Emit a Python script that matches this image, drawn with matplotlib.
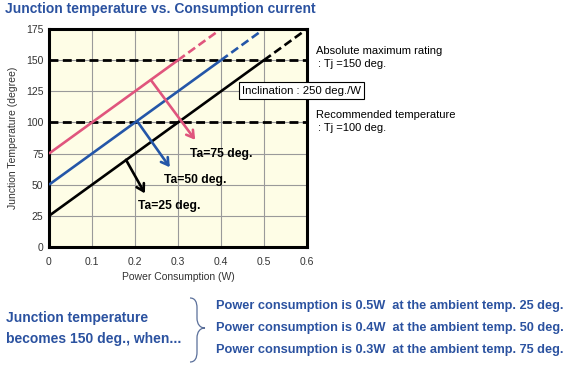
import matplotlib
matplotlib.use("Agg")
import matplotlib.pyplot as plt
from matplotlib.path import Path
from matplotlib.patches import PathPatch

plt.rcParams['font.family'] = ['Liberation Sans', 'DejaVu Sans']

# data
ta25_x = [0, 0.5, 0.6]
ta25_y = [25, 150, 175]
ta50_x = [0, 0.4, 0.49]
ta50_y = [50, 150, 172.5]
ta75_x = [0, 0.3, 0.39]
ta75_y = [75, 150, 172.5]
limit_lines = [150, 100]

# arrows: start on the line -> end near the label
arrow_starts = [(0.179, 70), (0.205, 101), (0.237, 134)]
arrow_ends = [(0.223, 43), (0.281, 64), (0.340, 86)]
ta_labels = ['Ta=25 deg.', 'Ta=50 deg.', 'Ta=75 deg.']
label_pos = [(0.207, 33), (0.267, 54), (0.328, 75)]

x_ticks = [0, 0.1, 0.2, 0.3, 0.4, 0.5, 0.6]
x_ticklabels = ['0', '0.1', '0.2', '0.3', '0.4', '0.5', '0.6']
y_ticks = [0, 25, 50, 75, 100, 125, 150, 175]

summary = ['Power consumption is 0.5W  at the ambient temp. 25 deg.',
           'Power consumption is 0.4W  at the ambient temp. 50 deg.',
           'Power consumption is 0.3W  at the ambient temp. 75 deg.']

c_black = 'black'
c_blue = '#2456a8'
c_pink = '#e0557d'
c_text_blue = '#2b52a0'

W, H = 570, 365


def fx(px):
    return px / W


def fy(py):
    return 1 - py / H


fig = plt.figure(figsize=(W / 100, H / 100), dpi=100)
ax = fig.add_axes([fx(49), fy(247), 258 / W, 218 / H])
ax.set_facecolor('#fefde6')

ax.set_xlim(0, 0.6)
ax.set_ylim(0, 175)
ax.set_xticks(x_ticks)
ax.set_xticklabels(x_ticklabels)
ax.set_yticks(y_ticks)
ax.tick_params(length=0, labelsize=7.5, labelcolor='#333333')
ax.tick_params(axis='x', pad=7)
ax.tick_params(axis='y', pad=4)
ax.grid(True, color='#9a9a9a', lw=0.8)
ax.set_axisbelow(True)
for s in ax.spines.values():
    s.set_linewidth(2.2)

dash = (0, (3.2, 1.6))
for y in limit_lines:
    ax.axhline(y, color='black', lw=2.0, linestyle=dash, zorder=3)

for xs, ys, col in [(ta25_x, ta25_y, c_black), (ta50_x, ta50_y, c_blue), (ta75_x, ta75_y, c_pink)]:
    ax.plot(xs[:2], ys[:2], color=col, lw=1.9, zorder=4, solid_capstyle='butt')
    ax.plot(xs[1:], ys[1:], color=col, lw=1.9, linestyle=dash, zorder=4)

for st, en, col in zip(arrow_starts, arrow_ends, [c_black, c_blue, c_pink]):
    ax.annotate('', xy=en, xytext=st,
                arrowprops=dict(arrowstyle='->,head_length=0.5,head_width=0.3',
                                color=col, lw=1.9, shrinkA=0, shrinkB=0), zorder=5)

for lab, pos in zip(ta_labels, label_pos):
    ax.text(pos[0], pos[1], lab, fontsize=8.7, fontweight='bold', ha='left', va='center', zorder=6)

ax.set_xlabel('Power Consumption (W)', fontsize=7.5, color='#333333', labelpad=4)
ax.set_ylabel('Junction Temperature (degree)', fontsize=7.5, color='#333333', labelpad=6)

# title
fig.text(fx(5), fy(9), 'Junction temperature vs. Consumption current', fontsize=10,
         fontweight='bold', color=c_text_blue, ha='left', va='center')

# right-side notes
fig.text(fx(316), fy(51), 'Absolute maximum rating', fontsize=8, ha='left', va='center')
fig.text(fx(318), fy(64), ': Tj =150 deg.', fontsize=8, ha='left', va='center')
fig.text(fx(316), fy(115), 'Recommended temperature', fontsize=8, ha='left', va='center')
fig.text(fx(318), fy(128), ': Tj =100 deg.', fontsize=8, ha='left', va='center')

fig.text(fx(242), fy(90.5), 'Inclination : 250 deg./W', fontsize=8.2, ha='left', va='center',
         bbox=dict(boxstyle='square,pad=0.3', fc='white', ec='black', lw=0.8), zorder=10)

# bottom summary
fig.text(fx(6), fy(318), 'Junction temperature', fontsize=10, fontweight='bold',
         color=c_text_blue, ha='left', va='center')
fig.text(fx(6), fy(339), 'becomes 150 deg., when...', fontsize=10, fontweight='bold',
         color=c_text_blue, ha='left', va='center')

for i, line in enumerate(summary):
    fig.text(fx(216), fy(306 + 22 * i), line, fontsize=9.2, fontweight='bold',
             color=c_text_blue, ha='left', va='center')

# brace
pts = [(190, 298), (195, 298), (197, 302), (197, 308),
       (197, 318),
       (197, 324), (200, 328), (205, 328),
       (200, 328), (197, 332), (197, 338),
       (197, 352),
       (197, 358), (195, 362), (190, 362)]
codes = [Path.MOVETO, Path.CURVE4, Path.CURVE4, Path.CURVE4,
         Path.LINETO,
         Path.CURVE4, Path.CURVE4, Path.CURVE4,
         Path.CURVE4, Path.CURVE4, Path.CURVE4,
         Path.LINETO,
         Path.CURVE4, Path.CURVE4, Path.CURVE4]
brace = Path([(fx(a), fy(b)) for a, b in pts], codes)
fig.add_artist(PathPatch(brace, fc='none', ec='#5a6f9a', lw=0.9, transform=fig.transFigure))

fig.savefig('out.png', dpi=100)
